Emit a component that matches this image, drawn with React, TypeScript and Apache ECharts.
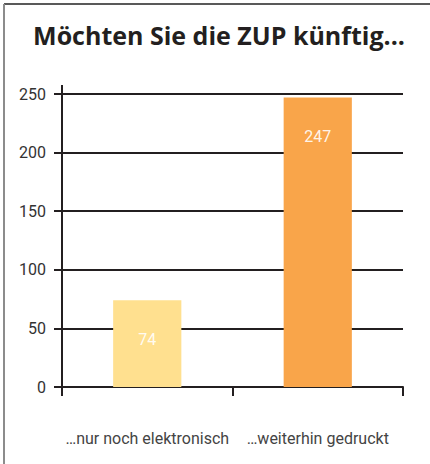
import React, { useEffect, useRef } from "react";
import * as echarts from "echarts";

const title = "Möchten Sie die ZUP künftig...";
const categories = ["…nur noch elektronisch", "…weiterhin gedruckt"];
const values = [74, 247];
const barColors = ["#FFE08F", "#F9A54A"];
const yTicks = { min: 0, max: 250, interval: 50 };

export default function App() {
  const ref = useRef<HTMLDivElement>(null);
  useEffect(() => {
    document.body.style.margin = "0";
    const chart = echarts.init(ref.current!, null, { renderer: "svg" });
    const font = "'Open Sans', sans-serif";
    const narrow = "Roboto, sans-serif";
    chart.setOption({
      animation: false,
      backgroundColor: "#fff",
      title: {
        text: title,
        left: 214,
        textAlign: "center",
        top: 17,
        textStyle: { fontFamily: font, fontWeight: "bold", fontSize: 25, color: "#231f20" },
      },
      graphic: [
        { type: "line", shape: { x1: 4, y1: 4, x2: 430, y2: 4 }, style: { stroke: "#222", lineWidth: 1.5 } },
        { type: "line", shape: { x1: 4, y1: 4, x2: 4, y2: 464 }, style: { stroke: "#8c8c8c", lineWidth: 2 } },
        { type: "line", shape: { x1: 62, y1: 85, x2: 62, y2: 95 }, style: { stroke: "#231f20", lineWidth: 2 } },
      ],
      grid: { left: 62, right: 27, top: 94, bottom: 77 },
      xAxis: {
        type: "category",
        data: categories,
        axisLine: { lineStyle: { color: "#231f20", width: 2 } },
        axisTick: { show: true, length: 9, lineStyle: { color: "#231f20", width: 2 } },
        axisLabel: { interval: 0, margin: 43, fontFamily: narrow, fontSize: 16, color: "#444" },
      },
      yAxis: {
        type: "value",
        min: yTicks.min,
        max: yTicks.max,
        interval: yTicks.interval,
        axisLine: { show: true, lineStyle: { color: "#231f20", width: 2 } },
        axisTick: { show: true, length: 8, lineStyle: { color: "#231f20", width: 2 } },
        splitLine: { lineStyle: { color: "#231f20", width: 2 } },
        axisLabel: { margin: 16, fontFamily: narrow, fontSize: 16, color: "#333" },
      },
      series: [
        {
          type: "bar",
          barWidth: "40%",
          data: values.map((v, i) => ({ value: v, itemStyle: { color: barColors[i] } })),
          label: {
            show: true,
            position: "insideTop",
            distance: 31,
            fontFamily: narrow,
            fontSize: 16,
            color: "rgba(255,255,255,0.9)",
          },
        },
      ],
    });
    return () => chart.dispose();
  }, []);
  return <div ref={ref} style={{ width: 430, height: 464, position: "absolute", left: 0, top: 0 }} />;
}
